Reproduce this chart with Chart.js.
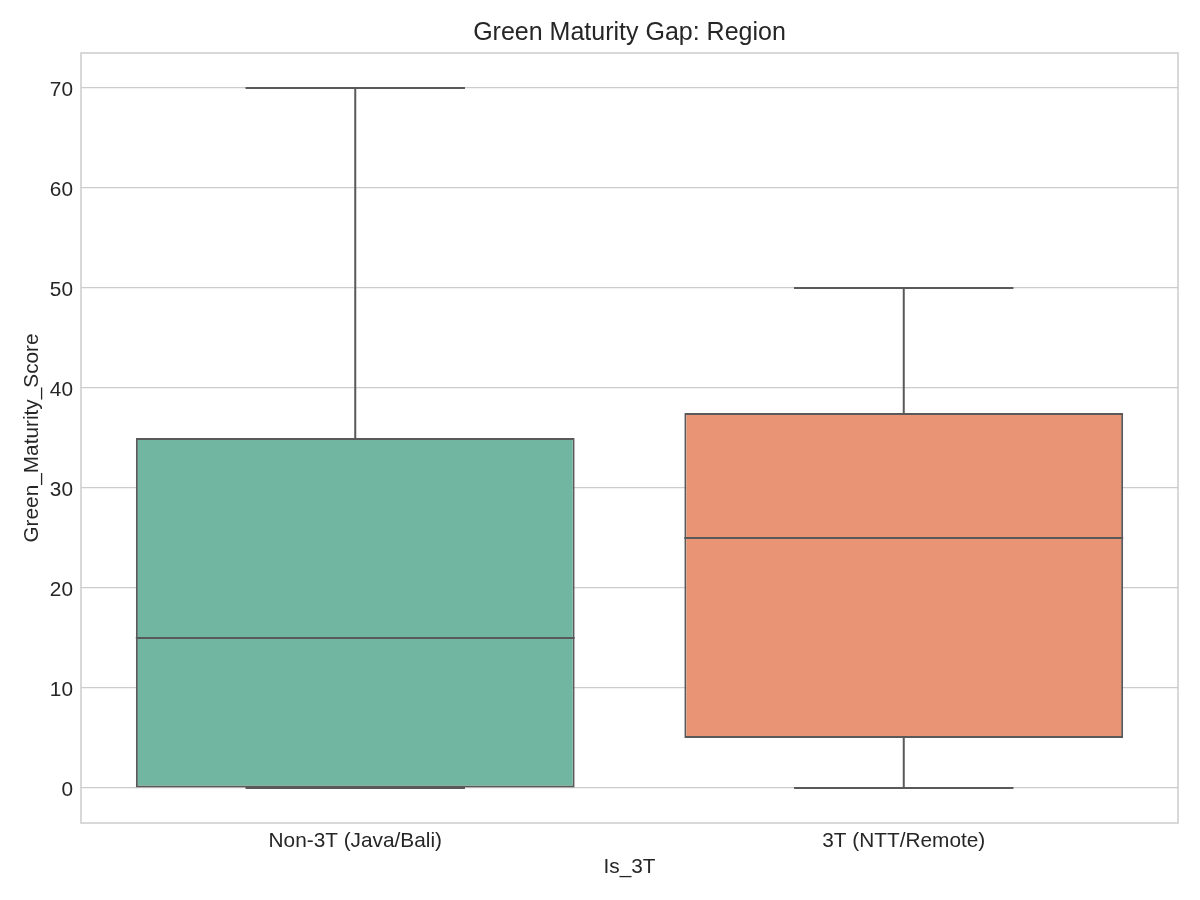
<!DOCTYPE html>
<html>
<head>
<meta charset="utf-8">
<script src="https://cdn.jsdelivr.net/npm/chart.js@4.4.1/dist/chart.umd.min.js"></script>
<style>
  body { margin: 0; background: #fff; }
</style>
</head>
<body>
<canvas id="boxChart" width="1200" height="900"></canvas>
<script>
// datos
const categorias = ['Non-3T (Java/Bali)', '3T (NTT/Remote)'];
const minimos = [0, 0];
const q1 = [0, 5];
const medianas = [15, 25];
const q3 = [35, 37.5];
const maximos = [70, 50];
const yTicks = [0, 10, 20, 30, 40, 50, 60, 70];
const colores = ['#71b6a1', '#e99575'];
const titulo = 'Green Maturity Gap: Region';

const lineaColor = '#595959';
const textoColor = '#262626';
const fuente = "'Liberation Sans', Arial, sans-serif";

Chart.defaults.font.family = fuente;
Chart.defaults.color = textoColor;

// marco gris alrededor del area
const marco = {
    id: 'marco',
    beforeDatasetsDraw(chart) {
        const a = chart.chartArea;
        const ctx = chart.ctx;
        ctx.save();
        ctx.strokeStyle = '#cccccc';
        ctx.lineWidth = 1.5;
        ctx.strokeRect(a.left, a.top, a.right - a.left, a.bottom - a.top);
        ctx.restore();
    }
};

// titulo centrado sobre el area del grafico
const tituloPlugin = {
    id: 'tituloPlugin',
    afterDraw(chart) {
        const a = chart.chartArea;
        const ctx = chart.ctx;
        ctx.save();
        ctx.font = "25px " + fuente;
        ctx.fillStyle = textoColor;
        ctx.textAlign = 'center';
        ctx.textBaseline = 'middle';
        ctx.fillText(titulo, (a.left + a.right) / 2, 33);
        ctx.restore();
    }
};

// bigotes y mediana
const bigotes = {
    id: 'bigotes',
    afterDatasetsDraw(chart) {
        const ctx = chart.ctx;
        const y = chart.scales.y;
        const meta = chart.getDatasetMeta(0);
        ctx.save();
        ctx.strokeStyle = lineaColor;
        ctx.lineWidth = 2;
        meta.data.forEach((bar, i) => {
            const x = bar.x;
            const w = bar.width;
            const yMin = y.getPixelForValue(minimos[i]);
            const yQ1 = y.getPixelForValue(q1[i]);
            const yMed = y.getPixelForValue(medianas[i]);
            const yQ3 = y.getPixelForValue(q3[i]);
            const yMax = y.getPixelForValue(maximos[i]);
            ctx.beginPath();
            // bigote superior
            ctx.moveTo(x, yQ3);
            ctx.lineTo(x, yMax);
            ctx.moveTo(x - w / 4, yMax);
            ctx.lineTo(x + w / 4, yMax);
            // bigote inferior
            ctx.moveTo(x, yQ1);
            ctx.lineTo(x, yMin);
            ctx.moveTo(x - w / 4, yMin);
            ctx.lineTo(x + w / 4, yMin);
            // mediana
            ctx.moveTo(x - w / 2, yMed);
            ctx.lineTo(x + w / 2, yMed);
            ctx.stroke();
        });
        ctx.restore();
    }
};

const data = {
    labels: categorias,
    datasets: [{
        data: categorias.map((c, i) => [q1[i], q3[i]]),
        backgroundColor: colores,
        borderColor: lineaColor,
        borderWidth: 2,
        borderSkipped: false,
        barPercentage: 0.8,
        categoryPercentage: 1
    }]
};

const options = {
    responsive: false,
    animation: false,
    layout: { padding: { left: 0, right: 22, top: 53, bottom: 0 } },
    plugins: {
        legend: { display: false },
        tooltip: { enabled: false },
        title: { display: false }
    },
    scales: {
        x: {
            grid: { display: false },
            border: { display: false },
            ticks: { font: { size: 20.8 }, padding: -2, color: textoColor },
            title: {
                display: true,
                text: 'Is_3T',
                font: { size: 20.8 },
                color: textoColor,
                padding: { top: 0, bottom: 20 }
            },
            afterFit(s) { s.height = 77; }
        },
        y: {
            min: -3.5,
            max: 73.5,
            afterBuildTicks(s) { s.ticks = yTicks.map(v => ({ value: v })); },
            grid: { color: '#cccccc', lineWidth: 1.2, drawTicks: false },
            border: { display: false },
            ticks: { font: { size: 20.8 }, padding: 8, labelOffset: 2, color: textoColor },
            title: {
                display: true,
                text: 'Green_Maturity_Score',
                font: { size: 20.8 },
                color: textoColor,
                padding: { top: 20, bottom: 0 }
            },
            afterFit(s) { s.width = 81; }
        }
    }
};

new Chart('boxChart', { type: 'bar', data, options, plugins: [marco, bigotes, tituloPlugin] });
</script>
</body>
</html>
